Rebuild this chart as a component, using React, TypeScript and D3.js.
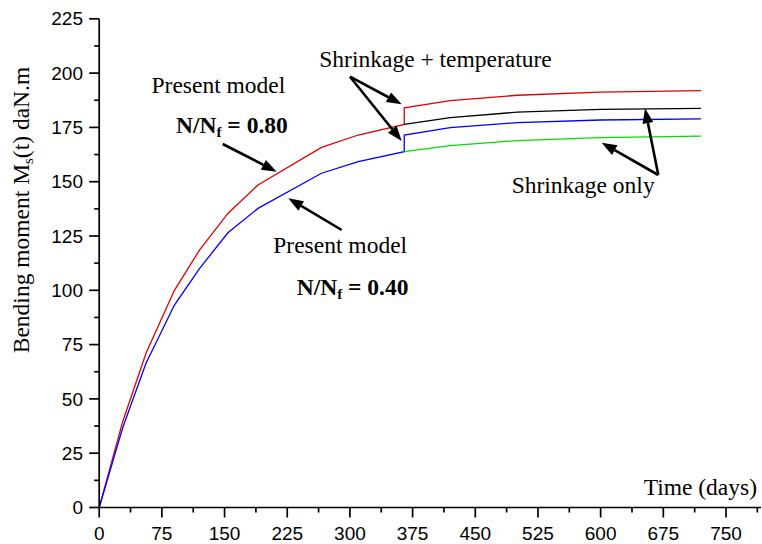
import React from "react";
import * as d3 from "d3";

// early age, before the temperature step (days)
const daysEarly = [0, 28, 56, 90, 120, 154, 190, 266, 310, 365];
const momentN080 = [0, 39.4, 71, 100, 118.5, 135.4, 148.5, 165.8, 171.5, 176.4];
const momentN040 = [0, 36.6, 66.4, 93.2, 110, 126.5, 137.7, 153.9, 159.2, 163.8];

// after the step
const daysLate = [365, 420, 500, 600, 720];
const n080Temp = [184, 187.3, 189.8, 191.2, 191.9];
const n080Shrink = [176.4, 179.5, 182, 183.3, 183.8];
const n040Temp = [171.5, 174.9, 177.2, 178.4, 178.9];
const n040Shrink = [163.8, 166.6, 168.9, 170.3, 171];

const xTicks = [0, 75, 150, 225, 300, 375, 450, 525, 600, 675, 750];
const yTicks = [0, 25, 50, 75, 100, 125, 150, 175, 200, 225];

const W = 762;
const H = 544;
const serif = "'Liberation Serif', 'Times New Roman', serif";
const sans = "'Liberation Sans', Arial, sans-serif";

const App = () => {
  const x = d3.scaleLinear().domain([0, 750]).range([99.2, 726]);
  const y = d3.scaleLinear().domain([0, 225]).range([507.5, 18.8]);
  const xEnd = 761;

  const line = d3.line<[number, number]>()
    .x(d => x(d[0]))
    .y(d => y(d[1]));

  const zip = (xs: number[], ys: number[]) => xs.map((d, i) => [d, ys[i]] as [number, number]);

  const series = [
    { pts: [...zip(daysEarly, momentN080), ...zip(daysLate, n080Temp)], color: "#e00000" },
    { pts: zip(daysLate, n080Shrink), color: "#000000" },
    { pts: [...zip(daysEarly, momentN040), ...zip(daysLate, n040Temp)], color: "#0000ff" },
    { pts: zip(daysLate, n040Shrink), color: "#00e000" },
  ];

  const xMinor = d3.range(37.5, 790, 75);
  const yMinor = d3.range(12.5, 225, 25);

  // annotation arrows, pixel space
  const arrows = [
    [222.7, 144, 276.7, 171.7],
    [341.7, 230, 288.3, 198.3],
    [350, 76.7, 401.7, 104.3],
    [350, 76.7, 401.7, 141],
    [658.3, 175, 601.7, 142.7],
    [658.3, 175, 645, 108.3],
  ];

  const arrowEl = (a: number[], i: number) => {
    const [x1, y1, x2, y2] = a;
    const ang = Math.atan2(y2 - y1, x2 - x1);
    const len = 15, hw = 5.5;
    const bx = x2 - len * Math.cos(ang), by = y2 - len * Math.sin(ang);
    const px = -Math.sin(ang) * hw, py = Math.cos(ang) * hw;
    return (
      <g key={i}>
        <line x1={x1} y1={y1} x2={bx} y2={by} stroke="#000" strokeWidth={2.6} />
        <polygon points={`${x2},${y2} ${bx + px},${by + py} ${bx - px},${by - py}`} fill="#000" />
      </g>
    );
  };

  const ratio = (xPos: number, yPos: number, val: string) => (
    <text x={xPos} y={yPos} fontFamily={serif} fontSize={23.5} fontWeight="bold">
      N/N<tspan fontSize={15} dy={4}>f</tspan><tspan dy={-4}> = {val}</tspan>
    </text>
  );

  return (
    <svg width={W} height={H} style={{ position: "absolute", left: 0, top: 0, background: "#fff" }}>
      {series.map((s, i) => (
        <path key={i} d={line(s.pts) || ""} fill="none" stroke={s.color} strokeWidth={1.3} />
      ))}

      {/* axes */}
      <g stroke="#000" strokeWidth={1.7}>
        <line x1={x(0)} y1={y(0)} x2={xEnd} y2={y(0)} />
        <line x1={x(0)} y1={y(0)} x2={x(0)} y2={y(225)} />
        {xTicks.map(t => <line key={"xt" + t} x1={x(t)} x2={x(t)} y1={y(0)} y2={y(0) + 10} />)}
        {xMinor.filter(t => x(t) < xEnd).map(t => <line key={"xm" + t} x1={x(t)} x2={x(t)} y1={y(0)} y2={y(0) + 5} />)}
        {yTicks.map(t => <line key={"yt" + t} x1={x(0) - 10} x2={x(0)} y1={y(t)} y2={y(t)} />)}
        {yMinor.map(t => <line key={"ym" + t} x1={x(0) - 5} x2={x(0)} y1={y(t)} y2={y(t)} />)}
      </g>
      {xTicks.map(t => (
        <text key={"xl" + t} x={x(t)} y={540} textAnchor="middle" fontFamily={sans} fontSize={19}>{t}</text>
      ))}
      {yTicks.map(t => (
        <text key={"yl" + t} x={83} y={y(t)} dy="0.35em" textAnchor="end" fontFamily={sans} fontSize={19}>{t}</text>
      ))}

      <text x={757} y={495} textAnchor="end" fontFamily={serif} fontSize={23.5}>Time (days)</text>
      <text transform="translate(29,210) rotate(-90)" textAnchor="middle" fontFamily={serif} fontSize={23.5}>
        Bending moment M<tspan fontSize={15} dy={4}>s</tspan><tspan dy={-4}>(t) daN.m</tspan>
      </text>

      {/* annotations */}
      <text x={151.5} y={93} fontFamily={serif} fontSize={23.5}>Present model</text>
      {ratio(176, 133, "0.80")}
      <text x={273.3} y={253} fontFamily={serif} fontSize={23.5}>Present model</text>
      {ratio(296.7, 295, "0.40")}
      <text x={319.3} y={67.3} fontFamily={serif} fontSize={23.5}>Shrinkage + temperature</text>
      <text x={511.7} y={193.3} fontFamily={serif} fontSize={23.5}>Shrinkage only</text>
      {arrows.map(arrowEl)}
    </svg>
  );
};

export default App;
